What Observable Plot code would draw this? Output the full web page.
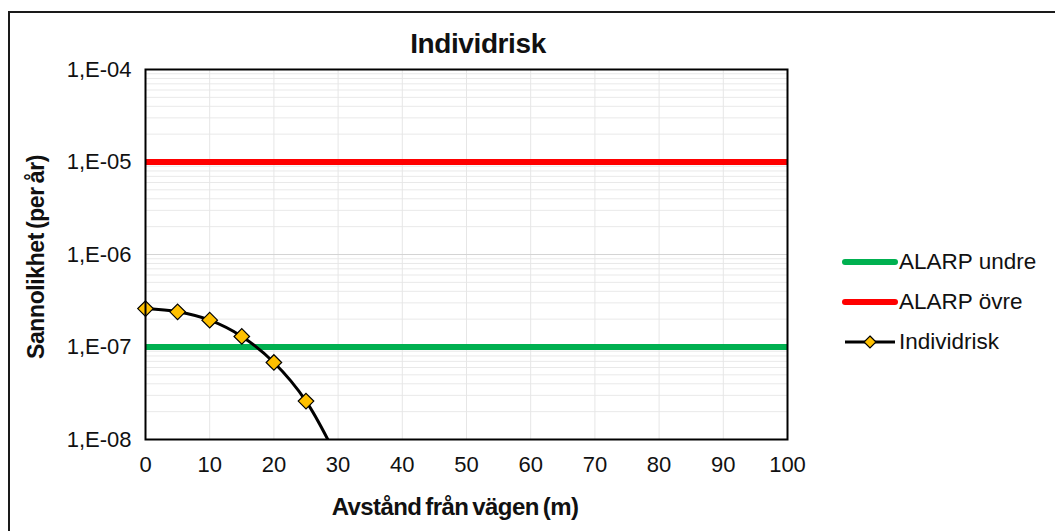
<!DOCTYPE html>
<html>
<head>
<meta charset="utf-8">
<script src="https://cdn.jsdelivr.net/npm/d3@7"></script>
<script src="https://cdn.jsdelivr.net/npm/@observablehq/plot@0.6"></script>
<style>
  html, body { margin: 0; padding: 0; background: #fff; }
  #wrap { position: relative; width: 1055px; height: 531px; overflow: hidden; font-family: "Liberation Sans", Arial, sans-serif; color: #111; }
  #outer { position: absolute; left: 8px; top: 11px; width: 1200px; height: 700px; border: 2px solid #1a1a1a; box-sizing: border-box; }
  #chart { position: absolute; left: 0; top: 0; }
  .lbl { position: absolute; font-weight: bold; white-space: nowrap; }
  #title { left: 278px; width: 400px; text-align: center; top: 28px; font-size: 28px; letter-spacing: -0.4px; }
  #xlabel { left: 255px; width: 400px; text-align: center; top: 493px; font-size: 24px; letter-spacing: -0.6px; word-spacing: -2px; }
  #ylabel { left: 36px; top: 257px; font-size: 23px; letter-spacing: -0.4px; word-spacing: -2px; transform: translate(-50%, -50%) rotate(-90deg); }
  #legend { position: absolute; left: 842px; top: 242px; font-size: 22.5px; }
  .row { display: flex; align-items: center; height: 40px; }
  .row svg { margin-right: 1px; }
</style>
</head>
<body>
<div id="wrap">
  <div id="outer"></div>
  <div id="chart"></div>
  <div class="lbl" id="title">Individrisk</div>
  <div class="lbl" id="ylabel">Sannolikhet (per år)</div>
  <div class="lbl" id="xlabel">Avstånd från vägen (m)</div>
  <div id="legend"></div>
</div>
<script>
// Data
const distances = [0, 5, 10, 15, 20, 25, 30];
const individRisk = [2.6e-7, 2.4e-7, 1.95e-7, 1.3e-7, 6.8e-8, 2.6e-8, 6e-9];
const alarpNames = ["ALARP undre", "ALARP övre"];
const alarpValues = [1e-7, 1e-5];
const alarpColors = ["#00b050", "#ff0000"];
const seriesName = "Individrisk";
const xTicks = [0, 10, 20, 30, 40, 50, 60, 70, 80, 90, 100];
const yTicks = [1e-8, 1e-7, 1e-6, 1e-5, 1e-4];
const minorMultipliers = [2, 3, 4, 5, 6, 7, 8, 9];

const riskData = distances.map((d, i) => ({x: d, y: individRisk[i]}));
const alarpData = alarpNames.map((n, i) => ({name: n, y: alarpValues[i], color: alarpColors[i]}));
const minorTicks = yTicks.slice(0, -1).flatMap(t => minorMultipliers.map(m => t * m));

const fmt = d => "1,E-" + String(Math.round(-Math.log10(d))).padStart(2, "0");

const plot = Plot.plot({
  width: 1055,
  height: 531,
  marginLeft: 145,
  marginRight: 268,
  marginTop: 69,
  marginBottom: 92,
  style: {fontFamily: "Liberation Sans, Arial, sans-serif", fontSize: "22px", color: "#111", background: "transparent"},
  x: {domain: [0, 100]},
  y: {type: "log", domain: [1e-8, 1e-4]},
  marks: [
    Plot.ruleY(minorTicks, {stroke: "#e9e9e9", strokeWidth: 1}),
    Plot.ruleX(xTicks, {stroke: "#e6e6e6", strokeWidth: 1}),
    Plot.ruleY(yTicks, {stroke: "#d4d4d4", strokeWidth: 1}),
    Plot.ruleY(alarpData, {y: "y", stroke: "color", strokeWidth: 6}),
    Plot.line(riskData, {x: "x", y: "y", stroke: "#000", strokeWidth: 3, curve: "catmull-rom", clip: true}),
    Plot.dot(riskData.filter(d => d.y >= 1e-8), {x: "x", y: "y", symbol: "diamond2", r: 7, fill: "#ffc000", stroke: "#000", strokeWidth: 1.2}),
    Plot.frame({stroke: "#000", strokeWidth: 2}),
    Plot.axisY({ticks: yTicks, tickFormat: fmt, tickSize: 0, tickPadding: 14, label: null, fontSize: 22}),
    Plot.axisX({ticks: xTicks, tickSize: 0, tickPadding: 17, label: null, fontSize: 22})
  ]
});
document.getElementById("chart").appendChild(plot);

// Legend
const legend = document.getElementById("legend");
const ns = "http://www.w3.org/2000/svg";
const legendItems = [
  {name: alarpNames[0], color: alarpColors[0], marker: false},
  {name: alarpNames[1], color: alarpColors[1], marker: false},
  {name: seriesName, color: "#000", marker: true}
];
legendItems.forEach(it => {
  const row = document.createElement("div");
  row.className = "row";
  const svg = document.createElementNS(ns, "svg");
  svg.setAttribute("width", 56); svg.setAttribute("height", 20);
  const ln = document.createElementNS(ns, "line");
  ln.setAttribute("x1", 3); ln.setAttribute("x2", 53); ln.setAttribute("y1", 10); ln.setAttribute("y2", 10);
  ln.setAttribute("stroke", it.color);
  ln.setAttribute("stroke-width", it.marker ? 3 : 6);
  ln.setAttribute("stroke-linecap", it.marker ? "butt" : "round");
  svg.appendChild(ln);
  if (it.marker) {
    const p = document.createElementNS(ns, "path");
    p.setAttribute("d", "M28,4 L34,10 L28,16 L22,10 Z");
    p.setAttribute("fill", "#ffc000"); p.setAttribute("stroke", "#000"); p.setAttribute("stroke-width", 1.2);
    svg.appendChild(p);
  }
  const t = document.createElement("span");
  t.textContent = it.name;
  row.appendChild(svg); row.appendChild(t);
  legend.appendChild(row);
});
</script>
</body>
</html>
